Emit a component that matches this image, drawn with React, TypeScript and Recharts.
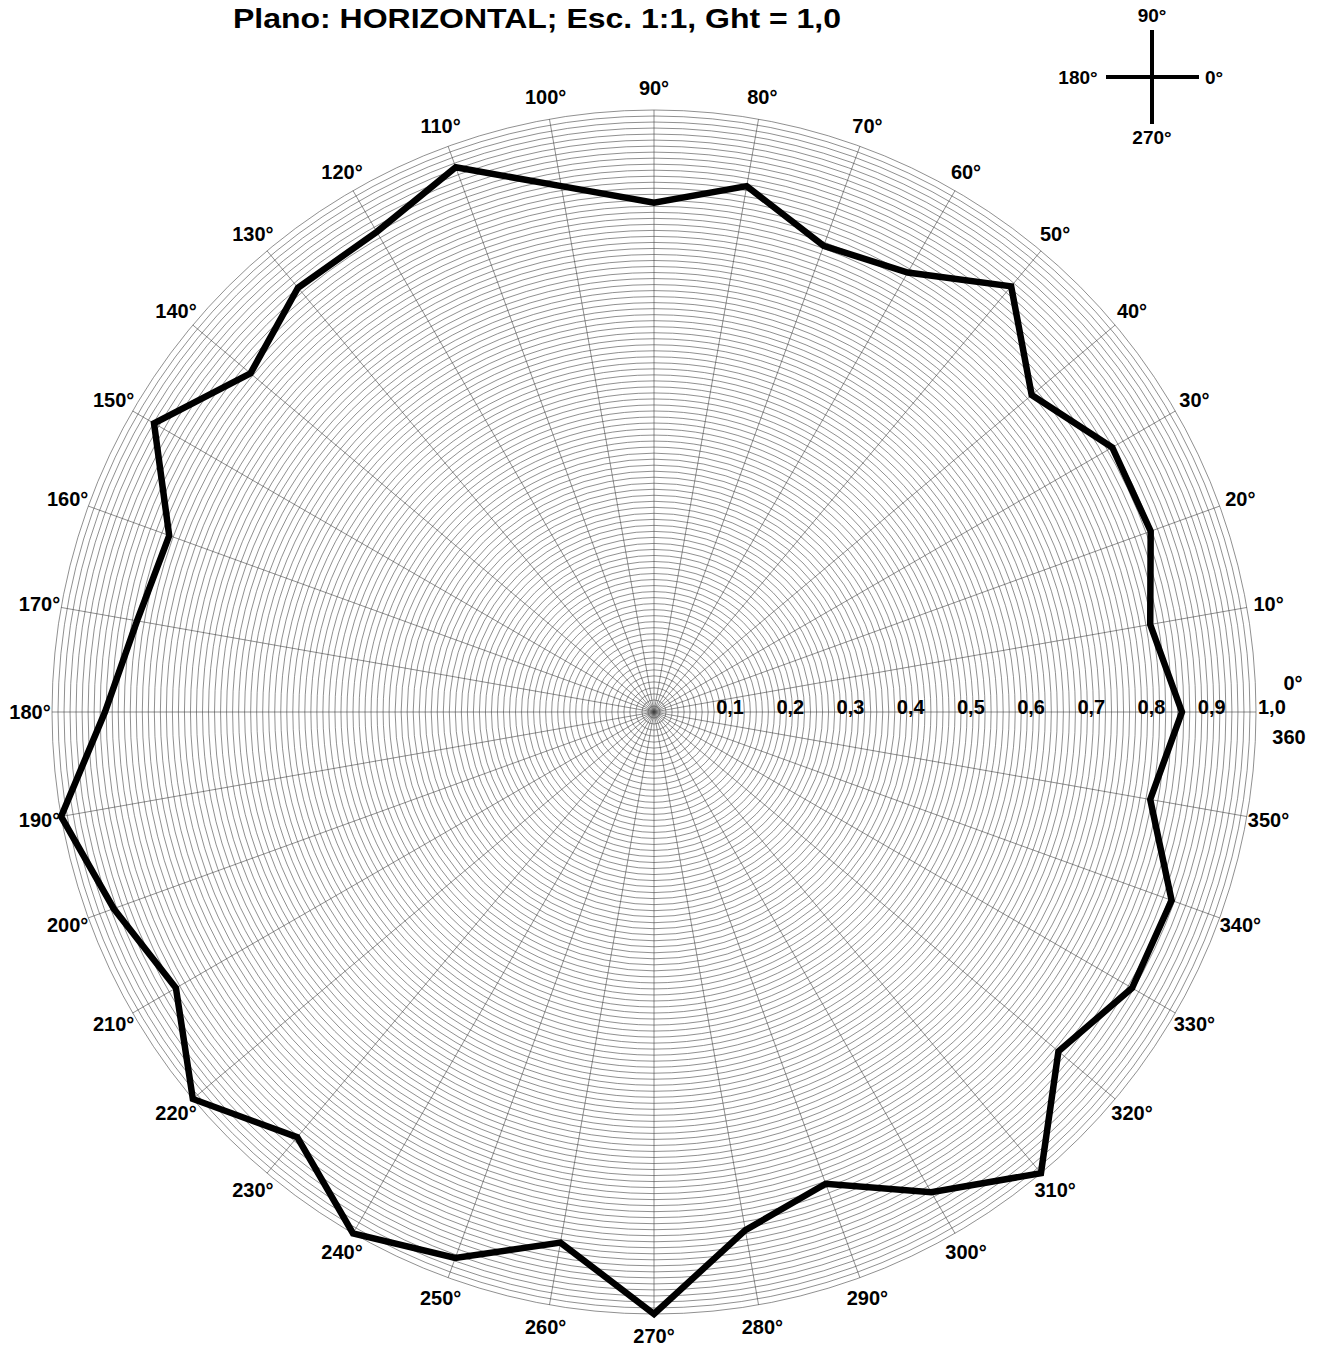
import React from 'react';
import { RadarChart, Radar, PolarGrid, PolarAngleAxis, PolarRadiusAxis } from 'recharts';

// ---- data ----
const angles = [0, 10, 20, 30, 40, 50, 60, 70, 80, 90, 100, 110, 120, 130, 140, 150, 160, 170,
  180, 190, 200, 210, 220, 230, 240, 250, 260, 270, 280, 290, 300, 310, 320, 330, 340, 350];
const gains = [0.877, 0.837, 0.878, 0.879, 0.819, 0.923, 0.843, 0.824, 0.887, 0.846, 0.887, 0.963,
  0.921, 0.920, 0.875, 0.959, 0.857, 0.872, 0.912, 1.0, 0.955, 0.917, 1.0, 0.922, 1.0, 0.965,
  0.895, 1.0, 0.874, 0.834, 0.921, 1.0, 0.877, 0.917, 0.915, 0.837];
const radiusLabelValues = [0.1, 0.2, 0.3, 0.4, 0.5, 0.6, 0.7, 0.8, 0.9, 1.0];
const radiusLabels = ['0,1', '0,2', '0,3', '0,4', '0,5', '0,6', '0,7', '0,8', '0,9', '1,0'];
const ringTicks = Array.from({ length: 101 }, (_, i) => i / 100);
const title = 'Plano: HORIZONTAL; Esc. 1:1, Ght = 1,0';
const compassLabels = { top: '90°', left: '180°', right: '0°', bottom: '270°' };

const data = angles.map((a, i) => ({ angle: a, gain: gains[i] }));

const W = 1320;
const H = 1348;
const CX = 654;
const CY = 712;
const OUTER = 602;
const FONT = '"Liberation Sans", Arial, Helvetica, sans-serif';

const AngleTick = (props: any) => {
  const { payload } = props;
  const a = Number(payload.value);
  if (a === 0 || a === 360) {
    return (
      <g>
        <text x={CX + OUTER + 37} y={CY - 22} textAnchor="middle" fontFamily={FONT} fontWeight="bold" fontSize={20} fill="#000">0°</text>
        <text x={CX + OUTER + 33} y={CY + 32} textAnchor="middle" fontFamily={FONT} fontWeight="bold" fontSize={20} fill="#000">360</text>
      </g>
    );
  }
  const r = 624;
  const rad = (a * Math.PI) / 180;
  const x = CX + r * Math.cos(rad);
  const y = CY - r * Math.sin(rad);
  return (
    <text x={x} y={y + 7} textAnchor="middle" fontFamily={FONT} fontWeight="bold" fontSize={20} fill="#000">
      {`${a}°`}
    </text>
  );
};

const RadiusTick = (props: any) => {
  const { x, y, payload } = props;
  const v = Number(payload.value);
  const idx = radiusLabelValues.findIndex((t) => Math.abs(t - v) < 1e-6);
  if (idx < 0) return <g />;
  return (
    <text x={x + 2} y={y + 2} textAnchor="start" fontFamily={FONT} fontWeight="bold" fontSize={20} fill="#000">
      {radiusLabels[idx]}
    </text>
  );
};

export default function App() {
  return (
    <div style={{ position: 'absolute', left: 0, top: 0, width: W, height: H, background: '#fff', overflow: 'hidden' }}>
      <RadarChart
        width={W}
        height={H}
        data={data}
        cx={CX}
        cy={CY}
        outerRadius={OUTER}
        innerRadius={0}
        startAngle={0}
        endAngle={360}
        margin={{ top: 0, right: 0, bottom: 0, left: 0 }}
      >
        <PolarGrid gridType="circle" stroke="#444" strokeWidth={0.6} />
        <PolarAngleAxis
          dataKey="angle"
          type="number"
          domain={[0, 360]}
          ticks={angles}
          tick={AngleTick}
          tickLine={false}
          axisLine={false}
        />
        <PolarRadiusAxis
          angle={0}
          type="number"
          domain={[0, 1]}
          ticks={ringTicks}
          tick={RadiusTick}
          tickLine={false}
          axisLine={false}
        />
        <Radar
          dataKey="gain"
          stroke="#000"
          strokeWidth={6.5}
          strokeLinejoin="miter"
          fill="none"
          fillOpacity={0}
          dot={false}
          isAnimationActive={false}
        />
      </RadarChart>
      <svg width={W} height={H} style={{ position: 'absolute', left: 0, top: 0, pointerEvents: 'none' }}>
        <text x={537} y={28} textAnchor="middle" fontFamily={FONT} fontWeight="bold" fontSize={28} textLength={608} lengthAdjust="spacingAndGlyphs" fill="#000">
          {title}
        </text>
        <line x1={1152} y1={30} x2={1152} y2={124} stroke="#000" strokeWidth={4} />
        <line x1={1106} y1={77} x2={1199} y2={77} stroke="#000" strokeWidth={4} />
        <text x={1152} y={22} textAnchor="middle" fontFamily={FONT} fontWeight="bold" fontSize={19} fill="#000">{compassLabels.top}</text>
        <text x={1078} y={84} textAnchor="middle" fontFamily={FONT} fontWeight="bold" fontSize={19} fill="#000">{compassLabels.left}</text>
        <text x={1214} y={84} textAnchor="middle" fontFamily={FONT} fontWeight="bold" fontSize={19} fill="#000">{compassLabels.right}</text>
        <text x={1152} y={144} textAnchor="middle" fontFamily={FONT} fontWeight="bold" fontSize={19} fill="#000">{compassLabels.bottom}</text>
      </svg>
    </div>
  );
}
